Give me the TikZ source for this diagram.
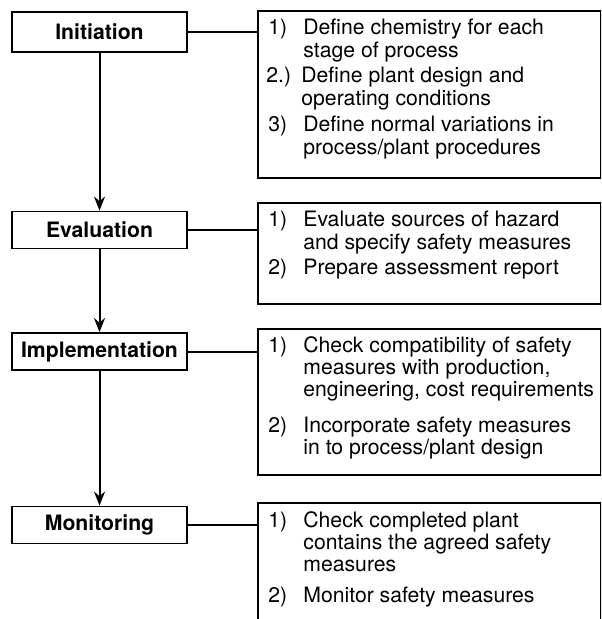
\documentclass[tikz,border=0pt]{standalone}
\usepackage{fontspec}
\setmainfont{TeX Gyre Heros}
\usetikzlibrary{positioning, arrows.meta}
\tikzset{
  stage/.style={draw, line width=0.9pt, minimum width=87.5pt, minimum height=18.5pt,
                inner sep=0pt, font=\bfseries\fontsize{10.6}{11}\selectfont},
  tasks/.style={draw, line width=0.9pt, minimum width=171.5pt, anchor=north west, inner sep=0pt},
  item/.style={anchor=base west, inner sep=0pt, font=\fontsize{10.6}{11}\selectfont},
  arrow/.style={-{Stealth[length=7pt, width=5.5pt]}, line width=1pt},
  link/.style={line width=1pt},
}
\newcommand{\steplist}[2]{\begin{tabular}[t]{@{}p{17.5pt}@{}l@{}}#1 & #2\end{tabular}}

\begin{document}
\begin{tikzpicture}[x=0.5pt, y=-0.5pt]
\useasboundingbox (0,0) rectangle (601,619);
\clip (0,0) rectangle (601,619);

%% ====================  STAGES  ====================

\node[stage, minimum height=20pt] (init) at (99.5,32) {Initiation};
\node[stage] (eval) at (99.5,230)   {Evaluation};
\node[stage] (impl) at (99.5,351.5) {Implementation};
\node[stage] (mon)  at (99.5,525)   {Monitoring};

%% ====================  TASK BOXES  ====================

\node[tasks, minimum height=83.5pt] (rb_init) at (257,10)  {};
\node[tasks, minimum height=50.5pt] (rb_eval) at (257,202) {};
\node[tasks, minimum height=73pt]   (rb_impl) at (257,328) {};
\node[tasks, minimum height=70pt]   (rb_mon)  at (257,502) {};

%% Initiation tasks
\node[item] (i1) at (268,35)  {\steplist{1)}{Define chemistry for each\\ & stage of process}};
\node[item] (i2) at (266,83)  {\steplist{2.)}{Define plant design and\\ & operating conditions}};
\node[item] (i3) at (268,132) {\steplist{3)}{Define normal variations in\\ & process/plant procedures}};

%% Evaluation tasks
\node[item] (e1) at (268,227) {\steplist{1)}{Evaluate sources of hazard\\ & and specify safety measures}};
\node[item] (e2) at (268,275) {\steplist{2)}{Prepare assessment report}};

%% Implementation tasks
\node[item] (m1) at (268,352) {\steplist{1)}{Check compatibility of safety\\ & measures with production,\\ & engineering, cost requirements}};
\node[item] (m2) at (268,432) {\steplist{2)}{Incorporate safety measures\\ & in to process/plant design}};

%% Monitoring tasks
\node[item] (n1) at (268,527) {\steplist{1)}{Check completed plant\\ & contains the agreed safety\\ & measures}};
\node[item] (n2) at (268,602) {\steplist{2)}{Monitor safety measures}};

%% ====================  ARROWS  ====================

\draw[arrow] (init) -- (eval);
\draw[arrow] (eval) -- (impl);
\draw[arrow] (impl) -- (mon);

\draw[link] (init.east) -- (init.east -| rb_init.west);
\draw[link] (eval.east) -- (eval.east -| rb_eval.west);
\draw[link] (impl.east) -- (impl.east -| rb_impl.west);
\draw[link] (mon.east)  -- (mon.east -| rb_mon.west);

\end{tikzpicture}
\end{document}
